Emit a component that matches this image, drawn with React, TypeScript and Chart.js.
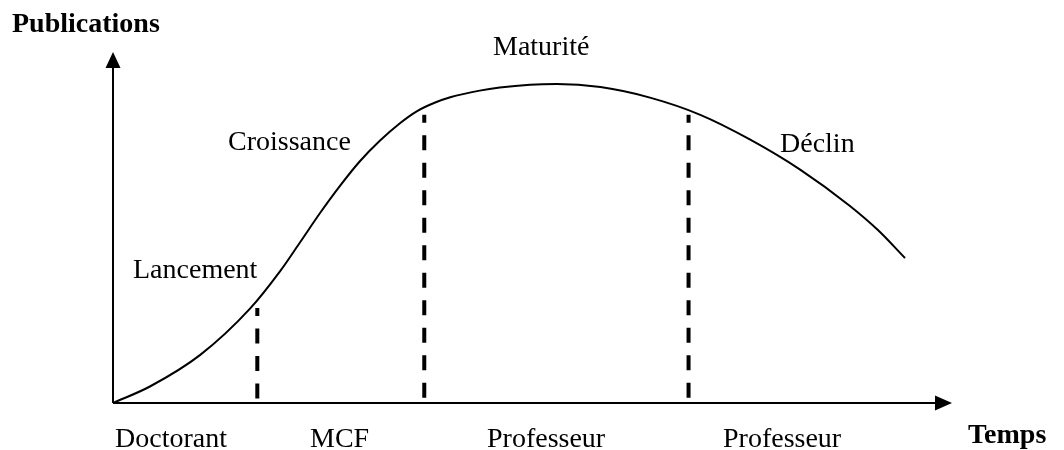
import React, { useEffect, useRef } from "react";
import { Chart, registerables } from "chart.js";

Chart.register(...registerables);

// Life-cycle curve (time 0-100, publications 0-100)
const curveTime = [0, 4.4, 10.4, 16.3, 19.9, 22.3, 24.7, 27.1, 29.4, 31.8, 34.2, 36.2, 38.4, 40.2, 43.7, 46.1, 49.7, 52.9, 58.1, 64.0, 70.0, 75.9, 81.9, 87.8, 91.2, 94.4];
const curvePubs = [0, 4.7, 13.7, 26.8, 37.5, 45.8, 54.2, 62.0, 68.8, 74.7, 79.7, 83.1, 85.6, 87.1, 89.0, 89.9, 90.7, 90.9, 90.0, 87.0, 82.1, 75.1, 66.5, 56.2, 49.2, 41.3];

// Phase boundaries (time) and the height of their dashed markers
const boundaryTime = [17.2, 37.1, 68.6];
const boundaryTop = [27.1, 82.1, 82.1];

// Texts
const phaseLabels = ["Lancement", "Croissance", "Maturité", "Déclin"];
const statusLabels = ["Doctorant", "MCF", "Professeur", "Professeur"];
const yTitle = "Publications";
const xTitle = "Temps";

const FONT = "'Liberation Serif', 'Times New Roman', serif";

function drawText(ctx: CanvasRenderingContext2D, text: string, x: number, y: number, bold = false) {
  ctx.save();
  ctx.font = `${bold ? "bold " : ""}28px ${FONT}`;
  ctx.fillStyle = "#000";
  ctx.textBaseline = "alphabetic";
  ctx.textAlign = "left";
  ctx.fillText(text, x, y);
  ctx.restore();
}

const decorPlugin = {
  id: "decor",
  beforeDatasetsDraw(chart: any) {
    const ctx = chart.ctx as CanvasRenderingContext2D;
    const xs = chart.scales.x;
    const ys = chart.scales.y;
    const x0 = xs.getPixelForValue(0);
    const x1 = xs.getPixelForValue(100);
    const y0 = ys.getPixelForValue(0);
    const y1 = ys.getPixelForValue(100);
    ctx.save();
    ctx.strokeStyle = "#000";
    ctx.fillStyle = "#000";
    ctx.lineWidth = 2;
    ctx.beginPath();
    ctx.moveTo(x0, y0);
    ctx.lineTo(x0, y1 + 12);
    ctx.moveTo(x0, y0);
    ctx.lineTo(x1 - 12, y0);
    ctx.stroke();
    // arrow heads
    ctx.beginPath();
    ctx.moveTo(x0, y1);
    ctx.lineTo(x0 - 7.5, y1 + 16);
    ctx.lineTo(x0 + 7.5, y1 + 16);
    ctx.closePath();
    ctx.fill();
    ctx.beginPath();
    ctx.moveTo(x1, y0);
    ctx.lineTo(x1 - 17, y0 - 7.5);
    ctx.lineTo(x1 - 17, y0 + 7.5);
    ctx.closePath();
    ctx.fill();
    ctx.restore();
  },
  afterDatasetsDraw(chart: any) {
    const ctx = chart.ctx as CanvasRenderingContext2D;
    drawText(ctx, yTitle, 12, 32, true);
    drawText(ctx, xTitle, 968, 443, true);
    const phasePos = [
      [133, 278],
      [228, 150],
      [493, 55],
      [780, 152],
    ];
    phaseLabels.forEach((t, i) => drawText(ctx, t, phasePos[i][0], phasePos[i][1]));
    const statusX = [115, 310, 487, 723];
    statusLabels.forEach((t, i) => drawText(ctx, t, statusX[i], 447));
  },
};

export default function App() {
  const ref = useRef<HTMLCanvasElement>(null);
  useEffect(() => {
    if (!ref.current) return;
    const curve = curveTime.map((t, i) => ({ x: t, y: curvePubs[i] }));
    const dashed = boundaryTime.map((t, i) => ({
      type: "line" as const,
      data: [
        { x: t, y: boundaryTop[i] },
        { x: t, y: 0 },
      ],
      borderColor: "#000",
      borderWidth: 4,
      borderDash: [15, 12.5],
      borderDashOffset: 7,
      borderCapStyle: "butt",
      pointRadius: 0,
      clip: false as any,
    }));
    const chart = new Chart(ref.current, {
      type: "line",
      data: {
        datasets: [
          {
            data: curve,
            borderColor: "#000",
            borderWidth: 2,
            pointRadius: 0,
            cubicInterpolationMode: "monotone",
            clip: false as any,
          },
          ...dashed,
        ] as any,
      },
      options: {
        animation: false,
        responsive: false,
        devicePixelRatio: 1,
        layout: { padding: { left: 113, right: 112, top: 52, bottom: 47 } },
        plugins: { legend: { display: false }, tooltip: { enabled: false }, title: { display: false } },
        scales: {
          x: { type: "linear", min: 0, max: 100, display: false },
          y: { type: "linear", min: 0, max: 100, display: false },
        },
      },
      plugins: [decorPlugin],
    });
    return () => chart.destroy();
  }, []);
  return (
    <div style={{ position: "fixed", left: 0, top: 0, width: 1064, height: 450, background: "#fff" }}>
      <canvas ref={ref} width={1064} height={450} style={{ display: "block" }} />
    </div>
  );
}
